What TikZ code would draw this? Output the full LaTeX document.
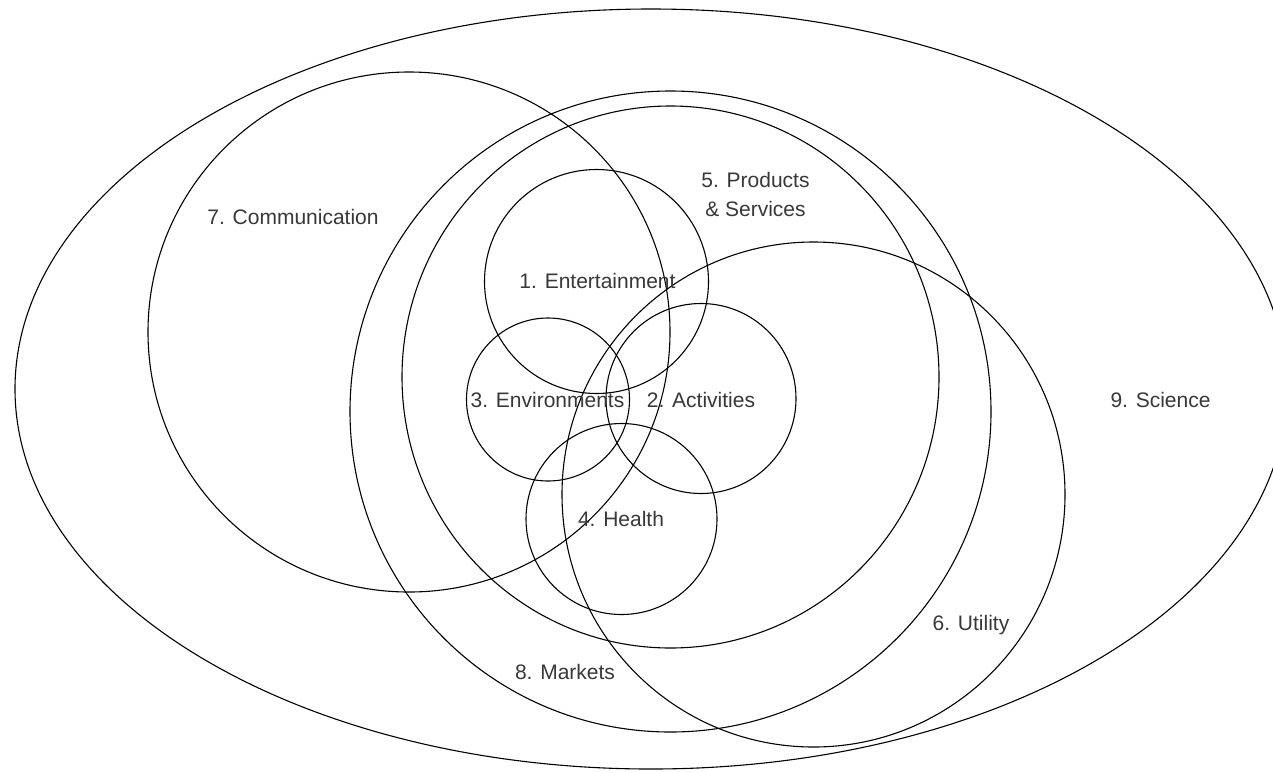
\documentclass[tikz,border=0pt]{standalone}
\usepackage{fontspec}
\setmainfont{Liberation Sans}
\usetikzlibrary{shapes.geometric}
\begin{document}
\begin{tikzpicture}[x=1pt,y=-1pt,
  ring/.style={draw=black,line width=1.1pt,ellipse,inner sep=0pt,outer sep=0pt},
  lbl/.style={font=\fontsize{21}{29}\selectfont,text=black!78,inner sep=0pt,align=center}]
\useasboundingbox (0,0) rectangle (1273,772);
\clip (0,0) rectangle (1273,772);
\fill[white] (0,0) rectangle (1273,772);
% ellipses
\node[ring,minimum width=1272pt,minimum height=760pt] (science) at (651,389) {};
\node[ring,minimum width=522pt,minimum height=520pt] (comm) at (409,332) {};
\node[ring,minimum width=641pt,minimum height=641pt] (markets) at (670.5,411.5) {};
\node[ring,minimum width=537pt,minimum height=542pt] (products) at (670.5,377) {};
\node[ring,minimum width=503pt,minimum height=505pt] (utility) at (813.5,494.5) {};
\node[ring,minimum width=224pt,minimum height=224pt] (ent) at (596.5,281.5) {};
\node[ring,minimum width=163pt,minimum height=163pt] (env) at (548,399.5) {};
\node[ring,minimum width=190pt,minimum height=190pt] (act) at (701,398.5) {};
\node[ring,minimum width=191pt,minimum height=191pt] (health) at (621.5,519) {};
% labels
\node[lbl] (lent) at (597.5,281) {1. Entertainment};
\node[lbl] (lact) at (701,400) {2. Activities};
\node[lbl] (lenv) at (547.5,400) {3. Environments};
\node[lbl] (lhealth) at (621,519) {4. Health};
\node[lbl] (lprod) at (755.5,194) {5. Products\\\& Services};
\node[lbl] (lutil) at (971,625) {6. Utility};
\node[lbl] (lcomm) at (293,217) {7. Communication};
\node[lbl] (lmark) at (565,672) {8. Markets};
\node[lbl] (lsci) at (1160.5,400) {9. Science};
\end{tikzpicture}
\end{document}
